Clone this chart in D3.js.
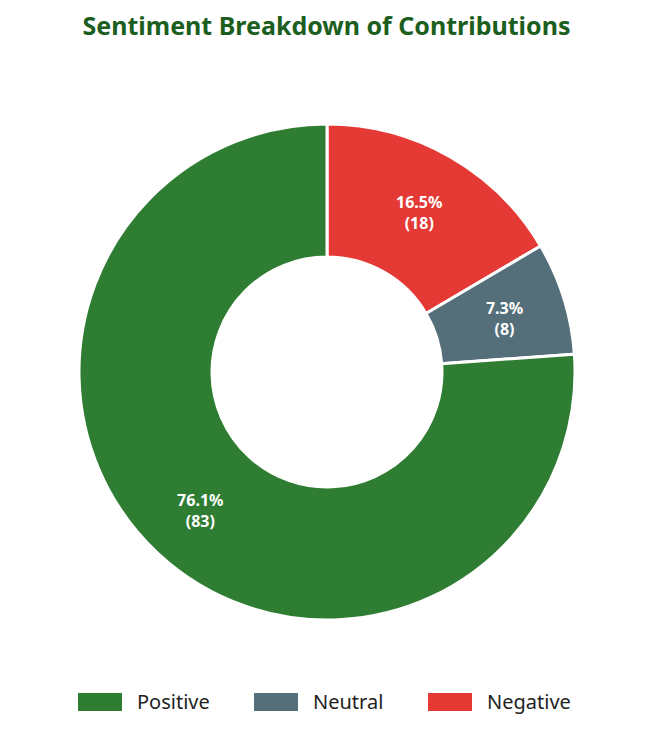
<!DOCTYPE html>
<html>
<head>
<meta charset="utf-8">
<script src="https://cdn.jsdelivr.net/npm/d3@7"></script>
<style>
  body { margin: 0; background: #fff; font-family: "Noto Sans", sans-serif; }
</style>
</head>
<body>
<div id="chart"></div>
<script>
const categories = ['Negative', 'Neutral', 'Positive'];
const counts = [18, 8, 83];
const colors = ['#e53935', '#546e7a', '#2e7d32'];
const legendOrder = ['Positive', 'Neutral', 'Negative'];

const width = 653, height = 738;
const cx = 327, cy = 372;
const outerR = 248, innerR = 115;

const svg = d3.select('#chart').append('svg')
  .attr('width', width).attr('height', height);

svg.append('text')
  .attr('x', width / 2).attr('y', 35)
  .attr('text-anchor', 'middle')
  .attr('fill', '#1b5e20')
  .style('font-size', '25px').style('font-weight', 'bold')
  .text('Sentiment Breakdown of Contributions');

const data = categories.map((c, i) => ({ name: c, value: counts[i], color: colors[i] }));
const total = d3.sum(counts);

const pie = d3.pie().sort(null).value(d => d.value);
const arc = d3.arc().innerRadius(innerR).outerRadius(outerR);
const labelArc = d3.arc().innerRadius(186).outerRadius(186);

const g = svg.append('g').attr('transform', `translate(${cx},${cy})`);
const arcs = pie(data);

g.selectAll('path').data(arcs).enter().append('path')
  .attr('d', arc)
  .attr('fill', d => d.data.color)
  .attr('stroke', '#fff').attr('stroke-width', 3);

const labels = g.selectAll('text.lbl').data(arcs).enter().append('text')
  .attr('class', 'lbl')
  .attr('transform', d => `translate(${labelArc.centroid(d)})`)
  .attr('text-anchor', 'middle')
  .attr('fill', '#fff')
  .style('font-size', '16px').style('font-weight', 'bold');
labels.append('tspan').attr('x', 0).attr('dy', '-0.15em')
  .text(d => (d.data.value / total * 100).toFixed(1) + '%');
labels.append('tspan').attr('x', 0).attr('dy', '1.3em')
  .text(d => `(${d.data.value})`);

const legendX = [78, 254, 428];
const legend = svg.append('g').selectAll('g').data(legendOrder).enter().append('g')
  .attr('transform', (d, i) => `translate(${legendX[i]}, 693)`);
legend.append('rect')
  .attr('width', 44).attr('height', 18)
  .attr('fill', d => colors[categories.indexOf(d)]);
legend.append('text')
  .attr('x', 59).attr('y', 16)
  .attr('fill', '#222')
  .style('font-size', '20px')
  .text(d => d);
</script>
</body>
</html>
